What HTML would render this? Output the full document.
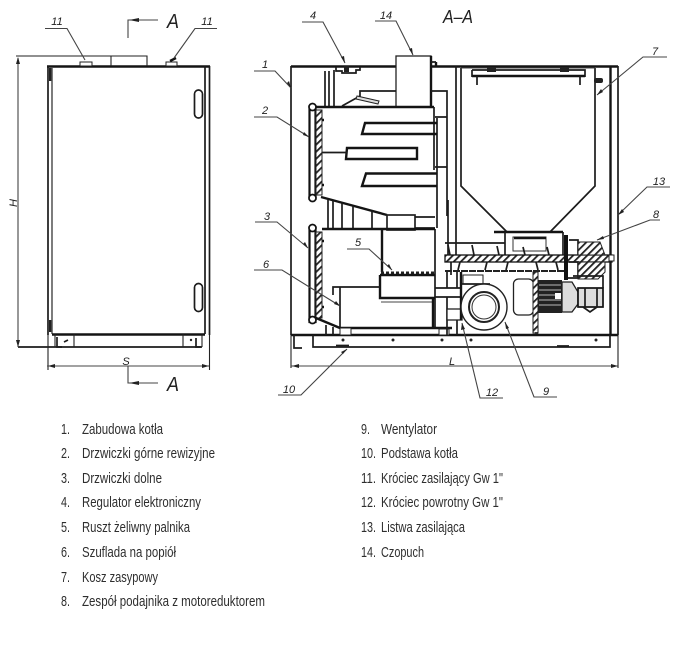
<!DOCTYPE html>
<html><head><meta charset="utf-8"><style>
html,body{margin:0;padding:0;background:#fff;width:694px;height:650px;overflow:hidden}
svg{display:block;filter:blur(0.35px)}
.l{fill:none;stroke:#222;stroke-width:1.1}
.m{fill:none;stroke:#1c1c1c;stroke-width:1.7}
.t{fill:none;stroke:#141414;stroke-width:2.4}
.g{fill:none;stroke:#444;stroke-width:1.1}
.d{fill:#222}
.n{font:italic 11px "Liberation Sans",sans-serif;fill:#222;text-anchor:middle}
.a{font:italic 20px "Liberation Sans",sans-serif;fill:#222}
.x{font:15px "Liberation Sans",sans-serif;fill:#2e2e2e}
</style></head><body>
<svg width="694" height="650" viewBox="0 0 694 650" xmlns="http://www.w3.org/2000/svg">
<defs><pattern id="h" width="5" height="5" patternUnits="userSpaceOnUse" patternTransform="rotate(45)"><rect width="5" height="5" fill="#fff"/><rect width="1.8" height="5" fill="#222"/></pattern></defs>

<!-- LEFT VIEW -->
<path class="t" d="M47 66.500H210"/>
<path class="l" d="M16 56H147V66M111 56V66"/>
<path class="m" d="M48 66V335M205 66V334M209.500 66V335"/>
<path d="M52 68V334" stroke="#666" stroke-width="1.700" fill="none"/>
<rect class="d" x="49" y="68" width="2.500" height="13"/><rect class="d" x="49" y="320" width="2.500" height="12"/>
<path class="t" d="M52 334.500H205"/>
<path class="m" d="M18 347H74M74 347H202"/>
<path class="l" d="M74 334V347M183 334V347M55 334V347M202 334V347M48 335V370M209.500 335V370"/>
<path class="m" d="M57 337V347H62M68 340L64 342M196 338V347H201"/>
<circle class="d" cx="191" cy="340" r="1.200"/>
<rect class="m" x="194.500" y="90" width="8" height="28" rx="4"/>
<rect class="m" x="194.500" y="283.500" width="8" height="28" rx="4"/>
<rect x="80" y="62" width="12" height="4" fill="#fff" stroke="#222"/>
<rect x="166" y="62" width="11" height="4" fill="#fff" stroke="#222"/>
<path class="t" d="M170 61L176 58"/>
<path class="g" d="M45 28.500H67L85 60M217 28.500H195L174 58"/>
<text class="n" x="57" y="25">11</text><text class="n" x="207" y="25">11</text>
<path class="g" d="M128 38V20H158M128 366V383H158"/>
<path class="d" d="M129 20L139 18V22ZM129 383L139 381V385Z"/>
<text class="a" x="167" y="28" textLength="12" lengthAdjust="spacingAndGlyphs">A</text><text class="a" x="167" y="391" textLength="12" lengthAdjust="spacingAndGlyphs">A</text>
<path class="g" d="M18 58V347M47 366H209"/>
<path class="d" d="M18 57L16 64H20ZM18 347L16 340H20ZM48 366L55 364V368ZM209 366L202 364V368Z"/>
<text class="n" transform="translate(17,203) rotate(-90)">H</text>
<text class="n" x="126" y="365">S</text>

<!-- SECTION -->
<text class="a" x="443" y="23" style="font-size:18px" textLength="30" lengthAdjust="spacingAndGlyphs">A–A</text>
<path class="t" d="M291 66.500H396M431 66.500H618"/>
<path class="m" d="M291 66V335"/>
<path class="t" d="M291 335H618"/>
<path class="t" d="M610.500 66V335"/>
<path class="m" d="M618 66V335"/>
<path class="l" d="M291 335V368M618 335V368"/>
<!-- regulator -->
<path class="m" d="M336 67V71H342V73H356V70H360V67"/><rect class="d" x="344" y="66" width="5" height="6"/>
<path class="m" d="M325 71V106M329 71V106M334 70V106"/>
<!-- chimney -->
<rect x="396" y="56" width="35" height="51" fill="#fff" stroke="#222" stroke-width="1.300"/>
<path class="t" d="M431 56V107M436 62V66"/>
<path class="m" d="M431 62H436M342 106L360 96V91H396"/>
<path d="M357 96L379 101L378 104L356 99Z" fill="#ddd" stroke="#222"/>
<path class="t" d="M315 107H434"/>
<path class="m" d="M434 107V118M437 118V228M434 118V170M431 91H447V216M435 117H447M435 167H447"/>
<!-- door 2 -->
<rect x="309.500" y="107" width="6" height="92" fill="#fff" stroke="#111" stroke-width="2.200"/>
<rect x="316" y="110" width="6" height="85" fill="url(#h)" stroke="#222"/>
<circle cx="312.500" cy="107" r="3.500" fill="#fff" stroke="#111" stroke-width="1.700"/><circle cx="312.500" cy="198" r="3.500" fill="#fff" stroke="#111" stroke-width="1.700"/>
<path class="t" d="M322 120H324M322 185H324"/>
<!-- baffles -->
<path class="t" d="M437 123H365L362 134H437"/>
<path class="t" d="M347 148H417V159H346Z"/><path class="m" d="M322 152.500H347"/>
<path class="t" d="M437 173.500H366L362 186H437"/>
<!-- slope -->
<path class="t" d="M321 197L387 215"/>
<path class="m" d="M328 200V228M333 201V228M342 203V228M353 206V228M372 211V228"/>
<rect x="387" y="215" width="28" height="15" fill="#fff" stroke="#222" stroke-width="1.700"/>
<path class="m" d="M415 217H435M415 228H435M435 229V327"/>
<path class="t" d="M322 229H435M382 229V272"/>
<!-- door 3 -->
<rect x="309.500" y="228" width="6" height="94" fill="#fff" stroke="#111" stroke-width="2.200"/>
<rect x="316" y="232" width="6" height="86" fill="url(#h)" stroke="#222"/>
<circle cx="312.500" cy="228" r="3.500" fill="#fff" stroke="#111" stroke-width="1.700"/><circle cx="312.500" cy="320" r="3.500" fill="#fff" stroke="#111" stroke-width="1.700"/>
<path class="t" d="M322 241H324M322 307H324"/>
<!-- grate -->
<path d="M381 273H435" stroke="#222" stroke-width="3" stroke-dasharray="3 2" fill="none"/>
<path class="t" d="M380 275H435M380 275V298H435"/>
<path class="g" d="M381 302H432"/>
<path class="m" d="M333 295V287H380M340 287V328"/>
<path class="t" d="M316 318L340 328H452"/>
<path class="t" d="M433 298V327"/>
<rect x="340" y="328" width="11" height="7" fill="#fff" stroke="#222"/><rect x="439" y="329" width="10" height="6" fill="#fff" stroke="#222"/>
<path class="m" d="M326 325V335M333 327V335"/>
<!-- base -->
<path class="m" d="M294 335V348H302M313 335V347H610V335"/>
<circle class="d" cx="343" cy="340" r="1.500"/><circle class="d" cx="393" cy="340" r="1.500"/><circle class="d" cx="442" cy="340" r="1.500"/><circle class="d" cx="471" cy="340" r="1.500"/><circle class="d" cx="596" cy="340" r="1.500"/>
<path class="m" d="M336 345.500H349M557 346H569"/>
<!-- right column lines -->
<path class="m" d="M456 66V255M448 200V255M451 255V275"/>
<path class="m" d="M435 288H462M435 297H462M447 271V288M457 271V288M447 297V335M457 320V335"/>
<rect x="447" y="309" width="15" height="11" fill="#fff" stroke="#222" stroke-width="1.300"/>
<path class="t" d="M461 272V320"/>
<!-- hopper -->
<path class="m" d="M461 68V186L507 232M595 68V186L550 232"/>
<path class="m" d="M472 70H585V77"/><path class="t" d="M472 76H585"/><path class="m" d="M472 70V77M477 76V85M580 76V85"/>
<path class="g" d="M461 68H595"/>
<rect class="d" x="487" y="67" width="9" height="5"/><rect class="d" x="560" y="67" width="9" height="5"/>
<rect class="d" x="594" y="78" width="9" height="5" rx="2"/>
<!-- feeder -->
<path class="t" d="M494 232H563"/>
<path class="m" d="M505 232V255M563 232V255"/>
<rect x="513" y="237" width="33" height="14" fill="#fff" stroke="#333"/>
<path class="t" d="M514 238H546"/>
<path class="m" d="M445 243H505"/>
<rect x="445" y="255" width="167" height="7" fill="url(#h)" stroke="#111" stroke-width="1.300"/>
<rect x="609" y="255" width="5" height="6" fill="#fff" stroke="#222"/>
<path d="M445 271H565" stroke="#222" stroke-width="2" fill="none" stroke-dasharray="7 1"/>
<path class="m" d="M450 255L448 245M474 255L472 245M499 255L497 246M525 255L523 247M549 255L547 247M460 262L458 270M487 262L485 270M508 262L506 270M536 262L538 270M556 262L558 270"/>
<path stroke="#111" stroke-width="4" d="M566 235V280" fill="none"/>
<path class="m" d="M569 240H578V255M569 262H578V278H568"/>
<path d="M578 242H600L605 255H578Z" fill="url(#h)" stroke="#222"/>
<path d="M578 262H605V272L598 279H578Z" fill="url(#h)" stroke="#222"/>
<!-- fan -->
<rect x="463" y="275" width="20" height="9" fill="#fff" stroke="#222"/>
<path class="m" d="M462 284H490"/>
<circle cx="484" cy="307" r="23" fill="#fff" stroke="#222" stroke-width="1.400"/>
<circle cx="484" cy="307" r="15" fill="#fff" stroke="#222" stroke-width="2"/>
<circle cx="484" cy="307" r="12" fill="#fff" stroke="#333"/>
<!-- motor -->
<rect x="513.500" y="279" width="20" height="36" rx="5" fill="#fff" stroke="#222" stroke-width="1.300"/>
<rect x="533" y="272" width="5" height="61" fill="url(#h)" stroke="#222"/>
<rect x="538" y="280" width="24" height="33" fill="#222"/>
<path d="M539 285H561M539 290H561M539 295H561M539 300H561M539 305H561" stroke="#bbb" fill="none"/>
<rect x="555" y="293" width="6" height="6" fill="#fff"/>
<path d="M562 282H572L578 292V304L572 312H562Z" fill="#ddd" stroke="#222" stroke-width="1.300"/>
<rect x="578" y="288" width="25" height="19" fill="#ddd" stroke="#111" stroke-width="1.700"/>
<path class="m" d="M585 288V307M597 288V307M573 276H603V288M583 307L590 312L597 307"/>
<path class="m" d="M535 333H538"/>
<!-- leaders -->
<path class="g" d="M254 71H275L291 88M254 117H277L309 137M255 222H277L308 248M254 270H282L340 306M347 249H369L392 270M302 22H323L345 63M375 21H396L413 55M667 57H643L597 95M670 187H647L618 215M660 220H650L597 240M278 395H301L347 349M462 323L480 398H503M505 322L534 397H557"/>
<path class="d" d="M291 88L287 83L289 81ZM309 137L303 135L304 132ZM308 248L303 244L305 242ZM340 306L334 304L336 301ZM392 270L387 266L389 264ZM345 63L341 57L344 56ZM413 55L409 49L412 48ZM597 95L601 89L603 92ZM618 215L622 209L624 212ZM597 240L603 236L604 239ZM347 349L343 354L341 352ZM462 323L465 329L461 330ZM505 322L509 328L506 329Z"/>
<text class="n" x="265" y="68">1</text><text class="n" x="265" y="114">2</text><text class="n" x="267" y="220">3</text><text class="n" x="313" y="19">4</text><text class="n" x="386" y="19">14</text><text class="n" x="358" y="246">5</text><text class="n" x="266" y="268">6</text><text class="n" x="655" y="55">7</text><text class="n" x="659" y="185">13</text><text class="n" x="656" y="218">8</text><text class="n" x="289" y="393">10</text><text class="n" x="492" y="396">12</text><text class="n" x="546" y="395">9</text>
<path class="g" d="M291 366H618"/>
<path class="d" d="M292 366L299 364V368ZM618 366L611 364V368Z"/>
<text class="n" x="452" y="365">L</text>

<!-- LIST -->
<g class="x">
<text x="61" y="434" textLength="9" lengthAdjust="spacingAndGlyphs">1.</text><text x="82" y="434" textLength="81" lengthAdjust="spacingAndGlyphs">Zabudowa kotła</text>
<text x="61" y="458" textLength="9" lengthAdjust="spacingAndGlyphs">2.</text><text x="82" y="458" textLength="133" lengthAdjust="spacingAndGlyphs">Drzwiczki górne rewizyjne</text>
<text x="61" y="483" textLength="9" lengthAdjust="spacingAndGlyphs">3.</text><text x="82" y="483" textLength="80" lengthAdjust="spacingAndGlyphs">Drzwiczki dolne</text>
<text x="61" y="507" textLength="9" lengthAdjust="spacingAndGlyphs">4.</text><text x="82" y="507" textLength="119" lengthAdjust="spacingAndGlyphs">Regulator elektroniczny</text>
<text x="61" y="532" textLength="9" lengthAdjust="spacingAndGlyphs">5.</text><text x="82" y="532" textLength="108" lengthAdjust="spacingAndGlyphs">Ruszt żeliwny palnika</text>
<text x="61" y="557" textLength="9" lengthAdjust="spacingAndGlyphs">6.</text><text x="82" y="557" textLength="94" lengthAdjust="spacingAndGlyphs">Szuflada na popiół</text>
<text x="61" y="582" textLength="9" lengthAdjust="spacingAndGlyphs">7.</text><text x="82" y="582" textLength="76" lengthAdjust="spacingAndGlyphs">Kosz zasypowy</text>
<text x="61" y="606" textLength="9" lengthAdjust="spacingAndGlyphs">8.</text><text x="82" y="606" textLength="183" lengthAdjust="spacingAndGlyphs">Zespół podajnika z motoreduktorem</text>
<text x="361" y="434" textLength="9" lengthAdjust="spacingAndGlyphs">9.</text><text x="381" y="434" textLength="56" lengthAdjust="spacingAndGlyphs">Wentylator</text>
<text x="361" y="458" textLength="15" lengthAdjust="spacingAndGlyphs">10.</text><text x="381" y="458" textLength="77" lengthAdjust="spacingAndGlyphs">Podstawa kotła</text>
<text x="361" y="483" textLength="15" lengthAdjust="spacingAndGlyphs">11.</text><text x="381" y="483" textLength="122" lengthAdjust="spacingAndGlyphs">Króciec zasilający Gw 1"</text>
<text x="361" y="507" textLength="15" lengthAdjust="spacingAndGlyphs">12.</text><text x="381" y="507" textLength="122" lengthAdjust="spacingAndGlyphs">Króciec powrotny Gw 1"</text>
<text x="361" y="532" textLength="15" lengthAdjust="spacingAndGlyphs">13.</text><text x="381" y="532" textLength="84" lengthAdjust="spacingAndGlyphs">Listwa zasilająca</text>
<text x="361" y="557" textLength="15" lengthAdjust="spacingAndGlyphs">14.</text><text x="381" y="557" textLength="43" lengthAdjust="spacingAndGlyphs">Czopuch</text>
</g>
</svg>
</body></html>
